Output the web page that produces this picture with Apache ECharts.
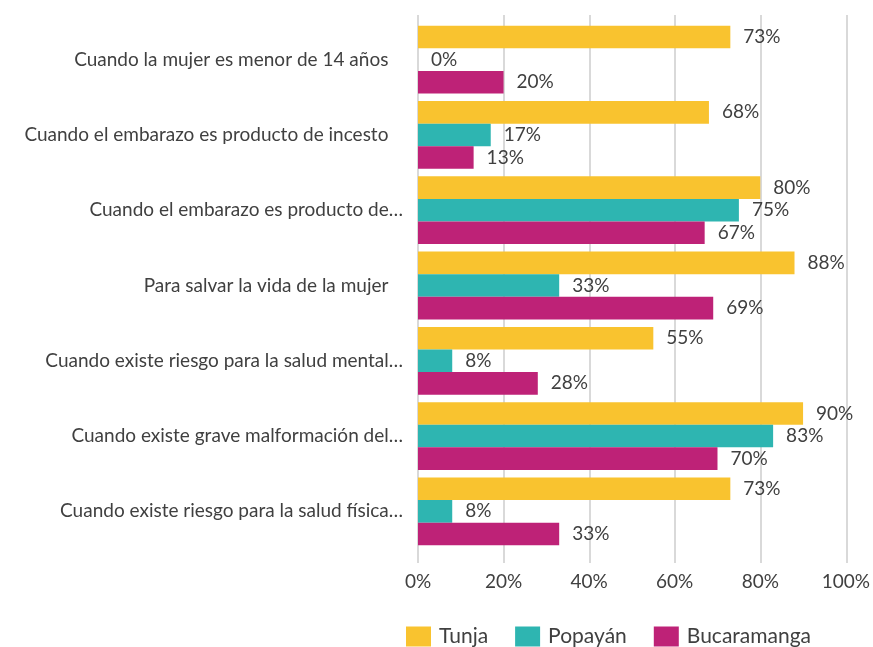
<!DOCTYPE html>
<html>
<head>
<meta charset="utf-8">
<script src="https://cdn.jsdelivr.net/npm/echarts@6/dist/echarts.min.js"></script>
<style>
	html, body { margin: 0; padding: 0; background: #fff; }
	#chart { width: 873px; height: 647px; }
</style>
</head>
<body>
<div id="chart"></div>
<script>
const categories = [
	'Cuando la mujer es menor de 14 años',
	'Cuando el embarazo es producto de incesto',
	'Cuando el embarazo es producto de…',
	'Para salvar la vida de la mujer',
	'Cuando existe riesgo para la salud mental…',
	'Cuando existe grave malformación del…',
	'Cuando existe riesgo para la salud física…'
]
const tunja = [73, 68, 80, 88, 55, 90, 73]
const popayan = [0, 17, 75, 33, 8, 83, 8]
const bucaramanga = [20, 13, 67, 69, 28, 70, 33]

const font = 'Lato, "Open Sans", sans-serif'
const textColor = '#404040'

var myChart = echarts.init(document.getElementById('chart'))

function barSeries(name, data, color) {
	return {
		name: name,
		type: 'bar',
		xAxisIndex: 0,
		yAxisIndex: 0,
		data: data,
		barGap: '0%',
		barCategoryGap: '10%',
		itemStyle: { color: color },
		label: {
			show: true,
			position: 'right',
			distance: 13,
			formatter: '{c}%',
			color: textColor,
			fontSize: 19,
			fontFamily: font
		}
	}
}

var option = {
	animation: false,
	grid: [
		{ left: 418, right: 26.5, top: 22, height: 527 },
		// only used to draw the taller gridlines behind the bars
		{ left: 418, right: 26.5, top: 15, height: 548 }
	],
	legend: {
		top: 626,
		left: 406,
		padding: 0,
		itemWidth: 25,
		itemHeight: 20,
		itemGap: 27,
		icon: 'rect',
		textStyle: { color: textColor, fontSize: 21, fontFamily: font, padding: [0, 0, 0, 3] },
		data: ['Tunja', 'Popayán', 'Bucaramanga']
	},
	xAxis: [{
		type: 'value',
		gridIndex: 0,
		min: 0,
		max: 100,
		interval: 20,
		axisLine: { show: false },
		axisTick: { show: false },
		splitLine: { show: false },
		axisLabel: {
			formatter: '{value}%',
			color: textColor,
			fontSize: 19,
			fontFamily: font,
			margin: 23
		}
	}, {
		type: 'value',
		gridIndex: 1,
		min: 0,
		max: 100,
		interval: 20,
		axisLine: { show: false },
		axisTick: { show: false },
		axisLabel: { show: false },
		splitLine: { show: true, lineStyle: { color: '#D9D9D9', width: 2 } }
	}],
	yAxis: [{
		type: 'category',
		gridIndex: 0,
		inverse: true,
		data: categories,
		axisLine: { show: false },
		axisTick: { show: false },
		axisLabel: {
			color: textColor,
			fontSize: 19,
			fontFamily: font,
			margin: 15,
			formatter: function(v) {
				// the labels without ellipsis sit a little further left
				return v.endsWith('…') ? v : v + '   '
			}
		}
	}, {
		type: 'category',
		gridIndex: 1,
		data: categories,
		show: false
	}],
	series: [
		barSeries('Tunja', tunja, '#F9C32F'),
		barSeries('Popayán', popayan, '#2EB5B1'),
		barSeries('Bucaramanga', bucaramanga, '#BE2277')
	]
}

myChart.setOption(option)
</script>
</body>
</html>
